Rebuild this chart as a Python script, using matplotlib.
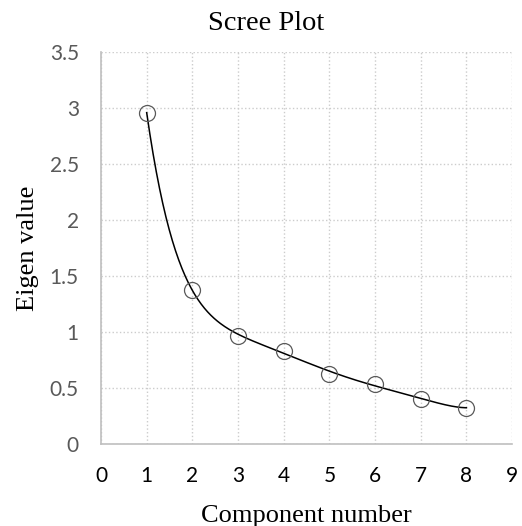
"""Scree plot of eigenvalues per component, with a polynomial trend line.
"""
import numpy as np
import matplotlib
matplotlib.use('Agg')
import matplotlib.pyplot as plt

# eigenvalues
components = [1, 2, 3, 4, 5, 6, 7, 8]
eigenvalues = [2.96, 1.376, 0.964, 0.833, 0.624, 0.532, 0.40, 0.322]
xticks = [0, 1, 2, 3, 4, 5, 6, 7, 8, 9]
yticks = [0, 0.5, 1, 1.5, 2, 2.5, 3, 3.5]

fig = plt.figure(figsize=(5.22, 5.26), dpi=100)
ax = fig.add_axes([0.1935, 0.1565, 0.7875, 0.7440])
ax.set_xlim(0, 9)
ax.set_ylim(0, 3.5)

# order-6 polynomial trend line over the data range
coef = np.polyfit(components, eigenvalues, 6)
tx = np.linspace(components[0], components[-1], 300)
ax.plot(tx, np.polyval(coef, tx), color='black', lw=1.1, zorder=3)
ax.plot(components, eigenvalues, ls='none', marker='o', ms=11.5,
        mfc='none', mec='#595959', mew=0.9, zorder=4)

ax.set_xticks(xticks)
ax.set_yticks(yticks)
ax.set_xticklabels([str(v) for v in xticks], fontfamily='Lato',
                   fontsize=15, color='black')
ax.set_yticklabels([f'{v:g}' for v in yticks], fontfamily='Lato',
                   fontsize=15, color='#595959')
ax.tick_params(length=0)
ax.tick_params(axis='x', pad=16)
ax.tick_params(axis='y', pad=16)

ax.grid(True, color='#cccccc', ls=':', lw=1.0)
ax.set_axisbelow(True)
for s in ['top', 'right']:
    ax.spines[s].set_visible(False)
for s in ['left', 'bottom']:
    ax.spines[s].set_color('#bfbfbf')
    ax.spines[s].set_linewidth(1.2)

# chart title is centred on the whole figure, not on the axes
fig.text(0.51, 1 - 30 / 526, 'Scree Plot', fontfamily='Liberation Serif',
         fontsize=20.5, ha='center', va='baseline')
ax.set_xlabel('Component number', fontfamily='Liberation Serif', fontsize=19,
              labelpad=14)
ax.set_ylabel('Eigen value', fontfamily='Liberation Serif', fontsize=19,
              labelpad=8)

fig.savefig('out.png', dpi=100)
